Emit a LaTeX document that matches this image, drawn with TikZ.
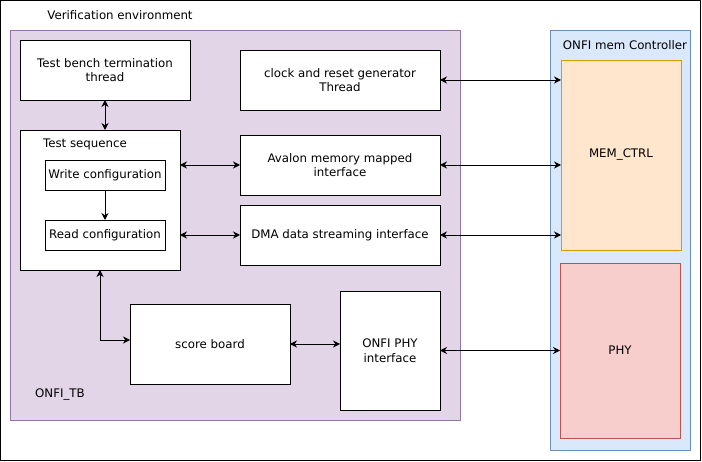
\documentclass[tikz,border=0pt]{standalone}
\usepackage{fontspec}
\setmainfont{DejaVu Sans}
\usepackage{tikz}
\usetikzlibrary{arrows.meta, positioning}
\definecolor{tbfill}{HTML}{E1D5E7}
\definecolor{tbdraw}{HTML}{9673A6}
\definecolor{ctrlfill}{HTML}{DAE8FC}
\definecolor{ctrldraw}{HTML}{6C8EBF}
\definecolor{memfill}{HTML}{FFE6CC}
\definecolor{memdraw}{HTML}{D79B00}
\definecolor{phyfill}{HTML}{F8CECC}
\definecolor{phydraw}{HTML}{B85450}
\tikzset{
  box/.style={rectangle, draw=black, fill=white, anchor=north west,
    align=center, inner sep=0pt, outer sep=0pt, line width=0.9pt},
  group/.style={rectangle, anchor=north west, inner sep=0pt,
    outer sep=0pt, line width=0.9pt},
  label/.style={inner sep=0pt},
  biarrow/.style={{Stealth[length=7pt,width=7pt]}-{Stealth[length=7pt,width=7pt]},
    line width=0.9pt, color=black},
  arrow/.style={-{Stealth[length=7pt,width=7pt]}, line width=0.9pt, color=black}
}

\begin{document}
\begin{tikzpicture}[x=1pt, y=-1pt, font=\fontsize{11.8}{14.6}\selectfont]
  \useasboundingbox (0,0) rectangle (702,462);
  \draw[line width=0.9pt] (0.5,0.5) rectangle (700.5,460.5);
  \node[label] (venv) at (120,15) {Verification environment};

  % Containers
  \node[group, draw=tbdraw, fill=tbfill, minimum width=450pt, minimum height=390pt] (tb) at (10,30) {};
  \node[group, draw=ctrldraw, fill=ctrlfill, minimum width=140pt, minimum height=420pt] (ctrl) at (550,30) {};
  \node[label] (tbname) at (60,395) {ONFI\_TB};
  \node[label] (ctrlname) at (625,45) {ONFI mem Controller};

  % Left column: threads and sequence
  \node[box, minimum width=170pt, minimum height=60pt] (tbt) at (20,40) {Test bench termination\\thread};
  \node[box, minimum width=160pt, minimum height=140pt] (seq) at (20,130) {};
  \node[label] (seqname) at (85,144) {Test sequence};
  \node[box, minimum width=120pt, minimum height=30pt] (wcfg) at (45,160) {Write configuration};
  \node[box, minimum width=120pt, minimum height=30pt, below=30pt of wcfg.south west, anchor=north west] (rcfg) {Read configuration};

  % Middle column: interfaces
  \node[box, minimum width=200pt, minimum height=60pt] (clk) at (240,50) {clock and reset generator\\Thread};
  \node[box, minimum width=200pt, minimum height=60pt, below=25pt of clk.south west, anchor=north west] (avl) {Avalon memory mapped\\interface};
  \node[box, minimum width=200pt, minimum height=60pt, below=10pt of avl.south west, anchor=north west] (dma) {DMA data streaming interface};
  \node[box, minimum width=160pt, minimum height=80pt] (sb) at (130,304) {score board};
  \node[box, minimum width=100pt, minimum height=119pt] (phyif) at (340,291) {ONFI PHY\\interface};

  % Controller blocks
  \node[group, draw=memdraw, fill=memfill, minimum width=120pt, minimum height=190pt] (memctrl) at (561,60) {};
  \node[label] at (memctrl.center) {MEM\_CTRL};
  \node[group, draw=phydraw, fill=phyfill, minimum width=120pt, minimum height=175pt] (phy) at (560,263) {};
  \node[label] at (phy.center) {PHY};

  % Arrows inside the test bench
  \draw[biarrow] (tbt.south) -- (tbt.south |- seq.north);
  \draw[arrow] (wcfg) -- (rcfg);
  \draw[biarrow] (seq.east |- avl.west) -- (avl.west);
  \draw[biarrow] (seq.east |- dma.west) -- (dma.west);
  \draw[biarrow] (seq.south) |- ([yshift=4pt]sb.west);
  \draw[biarrow] (sb.east) -- (sb.east -| phyif.west);

  % Arrows to the controller
  \draw[biarrow] (clk.east) -- (clk.east -| memctrl.west);
  \draw[biarrow] (avl.east) -- (avl.east -| memctrl.west);
  \draw[biarrow] (dma.east) -- (dma.east -| memctrl.west);
  \draw[biarrow] (phyif.east) -- (phyif.east -| phy.west);
\end{tikzpicture}
\end{document}
